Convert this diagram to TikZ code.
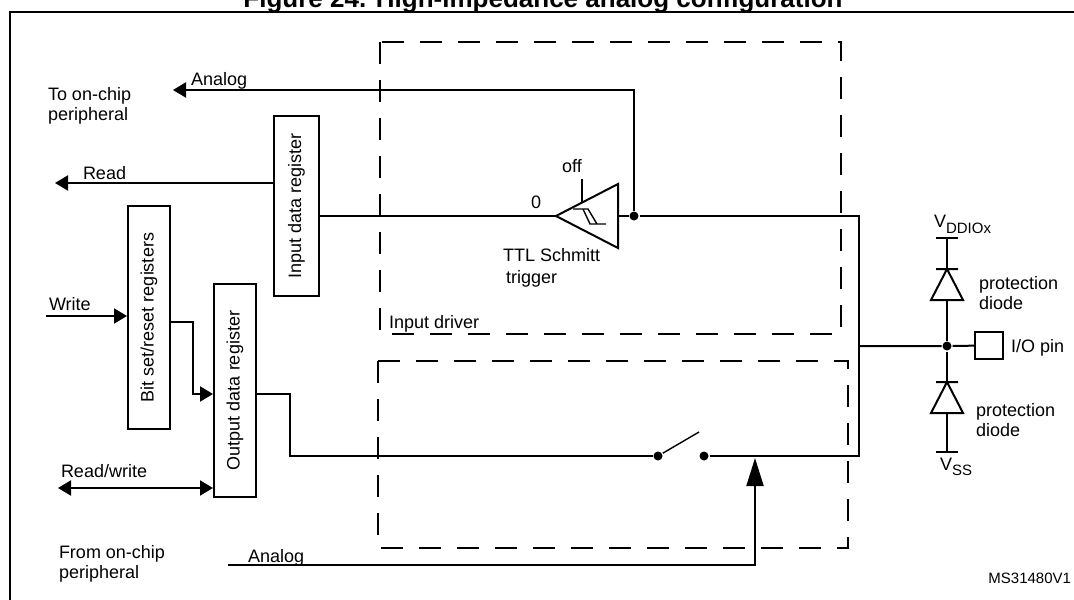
\documentclass[tikz,border=0pt]{standalone}
\usepackage{fontspec}
\setmainfont{Liberation Sans}
\usetikzlibrary{arrows.meta}

\begin{document}
\begin{tikzpicture}[x=0.5pt, y=-0.5pt, line width=1pt,
    font=\fontsize{9}{10}\selectfont,
    >={Triangle[length=6.5pt,width=7.5pt]},
    reg/.style={draw, inner sep=0pt, minimum width=21pt},
    drv/.style={line width=1.15pt, dash pattern=on 11pt off 8pt},
    dot/.style={circle, fill, inner sep=0pt, minimum size=4.5pt},
    txt/.style={inner sep=0pt, align=left}]
      \fill[white] (0,0) rectangle (1074,599);
      \useasboundingbox (0,0) rectangle (1074,599);
      \node[anchor=base, font=\fontsize{13}{15}\selectfont\bfseries] (title) at (543,8) {Figure 24. High-impedance analog configuration};
      \draw[line width=1.3pt] (10,610) -- (10,12) -- (1080,12);

      % driver areas
      \draw[drv] (380,42) rectangle (841,334);
      \draw[drv] (378,361) rectangle (848,548);
      \node[txt, anchor=base west] (drvlbl) at (388,328) {Input driver};

      % registers
      \node[reg, minimum width=22.5pt, minimum height=90pt] (inreg) at (296.5,206) {\rotatebox{90}{Input data register}};
      \node[reg, minimum height=111.5pt] (bsr) at (149,317.5) {\rotatebox{90}{Bit set/reset registers}};
      \node[reg, minimum height=106.5pt] (odr) at (235,390.5) {\rotatebox{90}{Output data register}};

      % TTL Schmitt trigger
      \coordinate (stin) at (556,216);
      \coordinate (stout) at (618,216);
      \draw (stin) -- (618,184) -- (618,248) -- cycle;
      \draw[line width=0.7pt] (573,209) -- (588,209) -- (597,224) (583,209) -- (590,224) -- (606,224);
      \draw (582,179) -- (582,203);
      \node[txt, anchor=base] (off) at (572,172) {off};
      \node[txt, anchor=base] (zero) at (536,208) {0};
      \node[txt, anchor=north west, font=\fontsize{9}{11}\selectfont] (stlbl) at (502,247) {TTL Schmitt\\\hspace{1.5pt}trigger};
      \node[dot] (jst) at (634,216) {};
      \draw (inreg.east |- stin) -- (stin);
      \draw (stout) -- (jst);

      % inputs and outputs on the left
      \coordinate (anaout) at (173,90);
      \draw[->] (jst) |- (anaout);
      \node[txt, anchor=base west] (analbl) at (190,85) {Analog};
      \node[txt, anchor=north west] (toper) at (47,86) {To on-chip\\peripheral};
      \coordinate (rdout) at (55,183);
      \draw[->] (inreg.west |- rdout) -- (rdout);
      \node[txt, anchor=base west] (rdlbl) at (82,179) {Read};
      \coordinate (wrin) at (46,316);
      \draw[->] (wrin) -- (wrin -| bsr.west);
      \node[txt, anchor=base west] (wrlbl) at (48,310) {Write};
      \draw[->] (bsr.east |- 0,322) -| (193,394) -- (odr.west |- 0,394);
      \coordinate (rwout) at (58,488);
      \draw[<->] (rwout) -- (rwout -| odr.west);
      \node[txt, anchor=base west] (rwlbl) at (60,477) {Read/write};

      % analog switch
      \node[dot] (swl) at (658,456) {};
      \node[dot] (swr) at (704,456) {};
      \draw (odr.east |- 0,394) -| (290,456) -- (swl);
      \draw[line width=0.7pt] (swl) -- (699,432);
      \draw (swr) -- (859,456) -- (859,216) -- (jst);
      \coordinate (anain) at (228,565);
      \draw[-{Triangle[length=14pt,width=8.5pt]}] (anain) -| (755,458);
      \node[txt, anchor=base west] (analbl2) at (247,562) {Analog};
      \node[txt, anchor=north west] (fromper) at (58,544) {From on-chip\\peripheral};

      % I/O pin with protection diodes
      \node[dot] (jpin) at (947,346) {};
      \node[draw, inner sep=0pt, minimum width=14pt, minimum height=13.5pt] (pin) at (989,345.5) {};
      \draw (859,346) -- (jpin) -- (pin);
      \node[txt, anchor=base west] (pinlbl) at (1010,352) {I/O pin};
      \foreach \y in {269,382}
        \draw (936,\y) -- (958,\y) (947,\y) -- (931,\y+31) -- (963,\y+31) -- cycle;
      \draw (936,238) -- (958,238) (947,238) -- (947,269);
      \draw (947,300) -- (jpin) -- (947,382);
      \draw (947,413) -- (947,452) (936,452) -- (958,452);
      \node[txt, anchor=base west] (vdd) at (933,227) {V\raisebox{-3pt}{\fontsize{7.5}{8}\selectfont DDIOx}};
      \node[txt, anchor=base west] (vss) at (939,470) {V\raisebox{-2.5pt}{\fontsize{7.5}{8}\selectfont SS}};
      \node[txt, anchor=north west] (prot1) at (978,275) {protection\\diode};
      \node[txt, anchor=north west] (prot2) at (975,402) {protection\\diode};
      \node[txt, anchor=base east, font=\fontsize{7.5}{9}\selectfont] (ref) at (1072,583) {MS31480V1};
    \end{tikzpicture}
\end{document}
